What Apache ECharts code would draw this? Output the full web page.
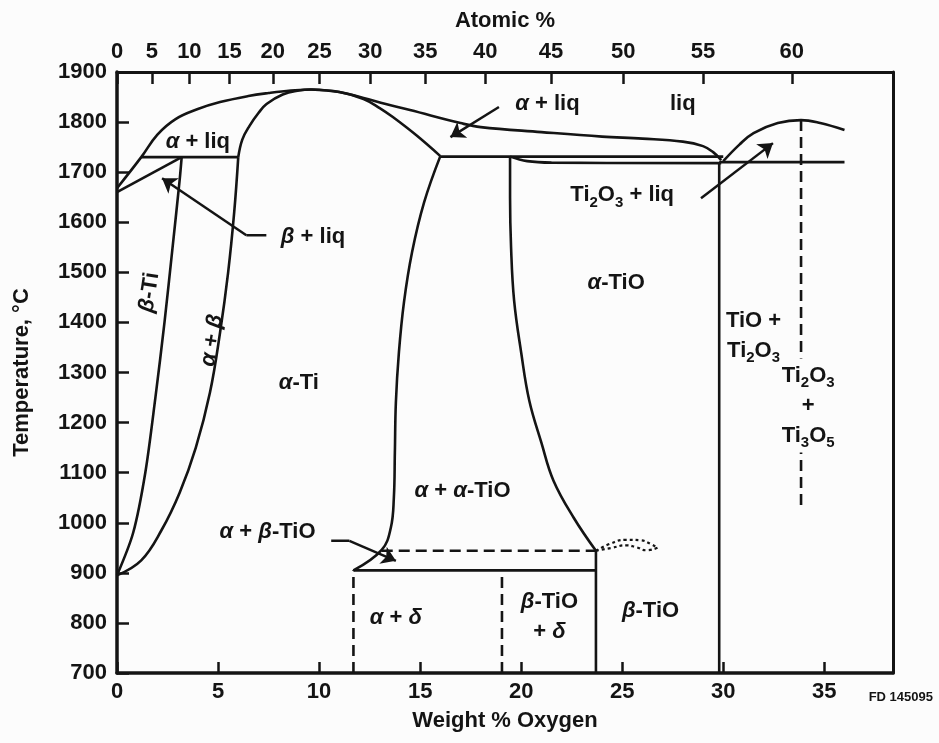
<!DOCTYPE html>
<html>
<head>
<meta charset="utf-8">
<script src="https://cdn.jsdelivr.net/npm/echarts@6/dist/echarts.min.js"></script>
<style>
  html, body { margin: 0; background: #fff; }
  #chart { width: 939px; height: 743px; }
</style>
</head>
<body>
<div id="chart"></div>
<script>
// Ti-O phase diagram: temperature vs weight % oxygen (atomic % on top)
const atomicTicks = [0, 5, 10, 15, 20, 25, 30, 35, 40, 45, 50, 55, 60];

// phase boundaries, [wt% O, degC]
const liquidusLeft = [[0, 1668], [1.2, 1730], [2.0, 1775], [2.9, 1806], [4.0, 1826], [5.1, 1840], [6.5, 1852], [7.5, 1858], [8.6, 1863], [9.6, 1865]];
const betaSolidus = [[0, 1660], [3.2, 1730]];
const betaPeritectic = [[1.2, 1730], [6.0, 1730]];
const alphaSolidusLeft = [[6.0, 1730], [6.2, 1765], [6.55, 1792], [7.0, 1818], [7.4, 1836], [8.2, 1855], [9.0, 1863], [9.6, 1865]];
const liquidusRight = [[9.6, 1865], [11.0, 1860], [12.2, 1848], [13.3, 1836], [14.5, 1824], [17.0, 1798], [18.0, 1790], [21, 1780], [24, 1771], [26, 1767], [28, 1761], [29.0, 1752], [29.5, 1740], [29.9, 1724]];
const alphaSolidusRight = [[9.6, 1865], [11.0, 1860], [12.2, 1846], [13.0, 1828], [13.65, 1810], [14.8, 1774], [16.0, 1732]];
const betaTransus = [[3.2, 1730], [3.1, 1684], [2.75, 1550], [2.35, 1400], [1.9, 1250], [1.4, 1100], [0.8, 980], [0, 895]];
const alphaTransus = [[6.0, 1730], [5.8, 1620], [5.5, 1500], [5.1, 1380], [4.6, 1260], [3.9, 1150], [3.1, 1060], [2.2, 985], [1.2, 925], [0, 895]];
const alphaTiBoundary = [[16.0, 1732], [15.2, 1640], [14.6, 1540], [14.2, 1440], [13.95, 1340], [13.8, 1240], [13.75, 1140], [13.7, 1050], [13.55, 990], [13.1, 946], [11.7, 905]];
const upperPeritectic = [[16.0, 1731], [30.0, 1731]];
const alphaTiOTop = [[19.45, 1731], [20.3, 1722], [21.5, 1719], [29.9, 1718]];
const alphaTiOLeft = [[19.45, 1731], [19.45, 1650], [19.5, 1550], [19.65, 1444], [20.0, 1340], [20.4, 1244], [21.0, 1160], [21.6, 1084], [22.6, 1010], [23.7, 944]];
const deltaLine = [[11.7, 905], [23.7, 905]];
const betaTiOLine = [[23.7, 700], [23.7, 944]];
const tiOTi2O3Line = [[29.8, 700], [29.8, 1720]];
const ti2o3Liquidus = [[30.0, 1722], [30.8, 1755], [31.5, 1778], [32.7, 1798], [33.85, 1804], [34.8, 1798], [36.0, 1784]];
const ti2o3Eutectic = [[29.8, 1720], [36.0, 1720]];
const dashedTiO = [[13.1, 944], [23.7, 944]];
const dashedDelta1 = [[11.7, 700], [11.7, 905]];
const dashedDelta2 = [[19.05, 700], [19.05, 905]];
const dashedTi3O5 = [[33.85, 1804], [33.85, 1025]];
const squiggleUpper = [[23.7, 944], [24.4, 958], [25.2, 966], [25.9, 965], [26.4, 958], [26.75, 950]];
const squiggleLower = [[23.7, 944], [24.5, 950], [25.2, 955], [25.7, 951], [26.2, 945], [26.75, 950]];

// leader lines (no head) and arrow segments (head at the end)
const leaders = [
  [[7.39, 1574], [6.4, 1574]],
  [[10.6, 964], [11.5, 964]]
];
const arrows = [
  [[18.9, 1830], [16.5, 1770]],
  [[6.4, 1574], [2.23, 1688]],
  [[11.5, 964], [13.8, 924]],
  [[28.9, 1648], [32.46, 1758]]
];

// [wt%, degC, text, rotate]
const labels = [
  [4.0, 1760, 'α + liq'],
  [21.3, 1836, 'α + liq'],
  [28.0, 1836, 'liq'],
  [9.7, 1570, 'β + liq'],
  [1.6, 1460, 'β-Ti', 81],
  [4.7, 1364, 'α + β', 81],
  [9.0, 1280, 'α-Ti'],
  [24.7, 1478, 'α-TiO'],
  [17.1, 1064, 'α + α-TiO'],
  [7.45, 982, 'α + β-TiO'],
  [13.8, 810, 'α + δ'],
  [21.4, 812, 'β-TiO\n+ δ'],
  [26.4, 824, 'β-TiO'],
  [31.5, 1374, 'TiO +\nTi_2O_3'],
  [34.2, 1234, 'Ti_2O_3\n+\nTi_3O_5'],
  [25.0, 1654, 'Ti_2O_3 + liq']
];

const ink = '#141414';
const paper = '#fcfcfc';
const font = 'Liberation Sans';

const toWt = a => 100 * 16 * a / (16 * a + 47.87 * (100 - a));
const toAt = w => 100 * (w / 16) / (w / 16 + (100 - w) / 47.87);

function richText(s) {
  return s.split('\n').map(line =>
    line.replace(/([αβδ])|_(\d)|([^αβδ_]+)/g, (m, g, d, t) =>
      g ? '{g|' + g + '}' : d ? '{s|' + d + '}' : '{t|' + t + '}')
  ).join('\n');
}

function curve(data, smooth, dashed) {
  return {
    type: 'line', data: data, symbol: 'none', showSymbol: false,
    smooth: smooth || false, silent: true, z: 3,
    lineStyle: { color: ink, width: 2.6, type: dashed ? [11, 6] : 'solid', cap: 'butt' }
  };
}

const chart = echarts.init(document.getElementById('chart'));

const series = [
  curve(liquidusLeft, 0.4),
  curve(betaSolidus),
  curve(betaPeritectic),
  curve(alphaSolidusLeft, 0.4),
  curve(liquidusRight, 0.4),
  curve(alphaSolidusRight, 0.4),
  curve(betaTransus, 0.3),
  curve(alphaTransus, 0.4),
  curve(alphaTiBoundary, 0.4),
  curve(upperPeritectic),
  curve(alphaTiOTop, 0.4),
  curve(alphaTiOLeft, 0.4),
  curve(deltaLine),
  curve(betaTiOLine),
  curve(tiOTi2O3Line),
  curve(ti2o3Liquidus, 0.4),
  curve(ti2o3Eutectic),
  curve(dashedTiO, false, true),
  curve(dashedDelta1, false, true),
  curve(dashedDelta2, false, true),
  curve(dashedTi3O5, false, true),
  {
    type: 'line', data: squiggleUpper, symbol: 'none', smooth: 0.5, silent: true,
    lineStyle: { color: ink, width: 2.2, type: [3, 3] }
  },
  {
    type: 'line', data: squiggleLower, symbol: 'none', smooth: 0.5, silent: true,
    lineStyle: { color: ink, width: 2.2, type: [3, 3] }
  }
];
leaders.forEach(d => series.push(curve(d)));
series.push({
  type: 'lines', coordinateSystem: 'cartesian2d', silent: true, z: 4,
  symbol: ['none', 'arrow'], symbolSize: [9, 14],
  lineStyle: { color: ink, width: 2.5, opacity: 1, curveness: 0 },
  data: arrows.map(c => ({ coords: c }))
});
series.push({
  type: 'scatter', symbolSize: 1, silent: true, z: 5,
  itemStyle: { color: 'rgba(0,0,0,0)', opacity: 1 },
  data: labels.map(l => ({
    value: [l[0], l[1]], name: l[2],
    label: Object.assign({ rotate: l[3] || 0 }, l[2].indexOf('Ti_3O_5') >= 0 ? { backgroundColor: paper, padding: [2, 2] } : {})
  })),
  label: {
    show: true, position: 'inside', align: 'center', verticalAlign: 'middle',
    opacity: 1, textBorderWidth: 0, color: ink,
    formatter: p => richText(p.name),
    rich: {
      t: { fontSize: 22, fontWeight: 'bold', fontFamily: font, color: ink, lineHeight: 30, textBorderWidth: 0 },
      g: { fontSize: 22, fontWeight: 'bold', fontStyle: 'italic', fontFamily: font, color: ink, lineHeight: 30, textBorderWidth: 0 },
      s: { fontSize: 15, fontWeight: 'bold', fontFamily: font, color: ink, lineHeight: 14, verticalAlign: 'bottom', textBorderWidth: 0 }
    }
  }
});

const tickLabel = { color: ink, fontSize: 22, fontWeight: 'bold', fontFamily: font };

chart.setOption({
  backgroundColor: paper,
  animation: false,
  grid: { left: 117, right: 46, top: 72, bottom: 70 },
  xAxis: [
    {
      type: 'value', min: 0, max: 38.4, interval: 5, position: 'bottom',
      name: 'Weight % Oxygen', nameLocation: 'middle', nameGap: 37,
      nameTextStyle: { color: ink, fontSize: 22, fontWeight: 'bold', fontFamily: font },
      axisLine: { onZero: false, lineStyle: { color: ink, width: 3.5 } },
      axisTick: { inside: true, length: 11, lineStyle: { color: ink, width: 2.5 } },
      axisLabel: Object.assign({ margin: 8, showMaxLabel: false, formatter: v => (v % 5 === 0 ? String(v) : '') }, tickLabel),
      splitLine: { show: false }
    },
    {
      type: 'value', min: 0, max: 38.4, position: 'top',
      name: 'Atomic %', nameLocation: 'middle', nameGap: 40,
      nameTextStyle: { color: ink, fontSize: 22, fontWeight: 'bold', fontFamily: font },
      axisLine: { onZero: false, lineStyle: { color: ink, width: 3 } },
      axisTick: { inside: true, length: 12, lineStyle: { color: ink, width: 2.5 }, customValues: atomicTicks.map(toWt) },
      axisLabel: Object.assign({ margin: 9, customValues: atomicTicks.map(toWt), formatter: v => String(Math.round(toAt(v))) }, tickLabel),
      splitLine: { show: false }
    }
  ],
  yAxis: [
    {
      type: 'value', min: 700, max: 1900, interval: 100,
      name: 'Temperature, °C', nameLocation: 'middle', nameGap: 84,
      nameTextStyle: { color: ink, fontSize: 22, fontWeight: 'bold', fontFamily: font },
      axisLine: { show: true, onZero: false, lineStyle: { color: ink, width: 3.5 } },
      axisTick: { inside: true, length: 12, lineStyle: { color: ink, width: 2.5 } },
      axisLabel: Object.assign({ margin: 10, formatter: v => String(v) }, tickLabel),
      splitLine: { show: false }
    },
    {
      type: 'value', min: 700, max: 1900, position: 'right',
      axisLine: { show: true, onZero: false, lineStyle: { color: ink, width: 3 } },
      axisTick: { show: false }, axisLabel: { show: false }, splitLine: { show: false }
    }
  ],
  graphic: [
    {
      type: 'text', right: 6, top: 691,
      style: { text: 'FD 145095', fill: ink, font: 'bold 13px "Liberation Sans"' }
    }
  ],
  series: series
});
</script>
</body>
</html>
